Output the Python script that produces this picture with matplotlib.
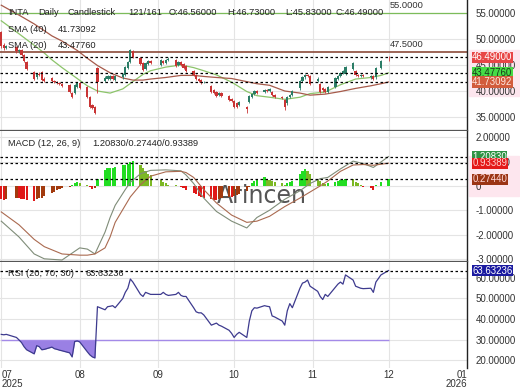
import matplotlib
matplotlib.use('Agg')
import matplotlib.pyplot as plt
import matplotlib.dates as mdates
import matplotlib.transforms as mtransforms
from matplotlib.patches import Rectangle
import numpy as np
import pandas as pd

plt.rcParams['font.family'] = ['Liberation Sans', 'DejaVu Sans']

# ---- data ----
holidays = ['2025-07-04', '2025-09-01', '2025-11-27']
days = pd.bdate_range('2025-07-01', '2025-12-01')
days = days[~days.isin(pd.to_datetime(holidays))]

opens = [51.3, 48.8, 48.3, 48.5, 47.6, 47.9, 47.0, 45.6, 43.6, 42.6, 43.2, 43.7, 42.3, 42.5, 41.9, 41.8,
         41.6, 41.3, 41.1, 39.7, 39.7, 40.8,
         41.5, 40.8, 38.8, 37.3, 37.0, 44.4, 42.0, 42.3, 42.4, 42.8, 42.2, 42.6, 43.0, 44.5, 45.5, 47.6,
         46.3, 45.4, 44.2, 45.2, 45.8,
         45.0, 45.7, 45.4, 45.9, 45.9, 45.0, 45.6, 45.2, 44.8, 43.8, 43.0, 42.3, 42.2, 41.7, 41.0, 40.1,
         39.8, 39.3, 39.6, 39.0, 38.4,
         38.0, 37.7, 37.4, 37.0, 37.8, 38.9, 39.5, 40.0, 39.9, 40.1, 40.0, 39.8, 39.2, 38.9, 38.2, 37.6,
         38.9, 39.3, 40.5, 42.0, 42.6, 43.0, 42.9,
         42.0, 41.3, 40.6, 40.3, 39.8, 40.8, 42.3, 42.8, 43.5, 43.3, 44.2, 43.9, 43.1, 42.9, 43.0, 42.6,
         42.9, 42.6, 44.4,
         46.56]
closes = [48.6, 48.2, 48.6, 47.6, 47.9, 47.0, 45.8, 44.2, 42.4, 43.3, 43.0, 42.2, 42.0, 41.9, 41.7, 41.6,
          41.3, 40.9, 39.8, 38.8, 41.2, 41.6,
          40.5, 38.9, 37.0, 36.7, 35.8, 41.7, 42.5, 42.8, 42.9, 42.3, 42.8, 43.2, 44.6, 45.5, 47.8, 46.5,
          45.2, 44.1, 45.3, 45.8, 45.3,
          45.9, 45.4, 45.9, 46.1, 44.9, 45.6, 45.0, 44.5, 43.8, 43.0, 42.3, 42.0, 41.6, 41.8, 39.9, 39.6,
          39.1, 39.7, 39.1, 38.2, 38.0,
          37.0, 37.0, 37.8, 36.5, 39.1, 39.4, 40.0, 39.7, 40.2, 40.0, 40.3, 39.2, 38.8, 38.6, 36.9, 38.9,
          39.2, 40.0, 42.0, 42.6, 43.1, 42.8, 41.3,
          42.4, 39.9, 40.1, 39.8, 40.7, 42.5, 42.9, 43.5, 43.9, 44.7, 45.3, 43.1, 42.8, 43.1, 42.9, 42.9,
          42.4, 44.4, 45.7,
          46.49]
highs = [51.6, 49.2, 48.8, 48.7, 48.1, 48.0, 47.2, 45.8, 43.9, 43.5, 43.6, 43.9, 42.6, 42.7, 42.1, 42.0,
         41.8, 41.5, 41.3, 39.9, 41.4, 41.8,
         41.7, 41.0, 39.0, 37.5, 37.2, 44.6, 42.8, 43.0, 43.1, 43.0, 43.0, 43.4, 44.8, 45.7, 48.0, 47.8,
         46.5, 45.6, 45.5, 46.0, 46.0,
         46.1, 45.9, 46.1, 46.5, 46.1, 45.8, 45.8, 45.4, 45.0, 44.0, 43.2, 42.5, 42.4, 42.0, 41.2, 40.3,
         40.0, 39.9, 39.8, 39.2, 38.6,
         38.2, 37.9, 38.0, 37.2, 39.3, 39.6, 40.2, 40.2, 40.4, 40.3, 40.5, 40.0, 39.4, 39.1, 38.4, 39.1,
         39.4, 40.2, 42.2, 42.8, 43.3, 43.2, 43.1,
         42.6, 41.5, 40.8, 40.5, 40.9, 42.7, 43.1, 43.7, 44.1, 44.9, 45.6, 44.1, 43.3, 43.3, 43.2, 43.1,
         43.1, 44.6, 45.9,
         46.73]
lows = [48.3, 47.9, 48.0, 47.4, 47.3, 46.8, 45.6, 44.0, 42.2, 42.4, 42.8, 42.0, 41.8, 41.7, 41.5, 41.4,
        41.1, 40.7, 39.6, 38.6, 39.5, 40.6,
        40.3, 38.7, 36.8, 36.5, 35.6, 39.6, 41.8, 42.1, 42.2, 42.1, 42.0, 42.4, 42.8, 44.3, 45.3, 46.3,
        45.0, 43.9, 44.0, 45.0, 45.1,
        44.8, 45.2, 45.2, 45.7, 44.7, 44.8, 44.8, 44.3, 43.6, 42.8, 42.1, 41.8, 41.4, 41.5, 39.7, 39.4,
        38.9, 39.1, 38.9, 38.0, 37.8,
        36.8, 36.8, 37.2, 35.8, 37.6, 38.7, 39.3, 39.5, 39.7, 39.8, 39.8, 39.0, 38.6, 38.4, 36.3, 37.4,
        38.7, 39.1, 40.2, 41.8, 42.4, 42.6, 41.1,
        41.8, 39.7, 39.9, 39.6, 39.6, 40.6, 42.1, 42.6, 43.3, 43.1, 44.0, 42.9, 42.6, 42.7, 42.7, 42.4,
        42.2, 42.4, 44.2,
        45.83]

hist = [-0.55, -0.58, -0.55, -0.50, -0.50, -0.52, -0.55, -0.60, -0.62, -0.55, -0.50, -0.48, -0.42, -0.30,
        -0.25, -0.18, -0.12, -0.08, -0.03, 0.03, 0.10, 0.18,
        0.12, 0.02, -0.06, -0.12, -0.08, 0.30, 0.65, 0.72, 0.74, 0.75, 0.78, 0.85, 0.88, 0.92, 1.00, 1.02,
        0.85, 0.75, 0.60, 0.50, 0.45,
        0.25, 0.15, 0.10, 0.05, 0.02, -0.02, -0.05, -0.10, -0.15, -0.30, -0.35, -0.40, -0.45, -0.48, -0.55,
        -0.58, -0.60, -0.52, -0.48, -0.45, -0.45,
        -0.42, -0.38, -0.35, -0.20, -0.05, 0.10, 0.20, 0.30, 0.35, 0.30, 0.25, 0.20, 0.15, 0.10, 0.05, 0.10,
        0.15, 0.20, 0.50, 0.62, 0.68, 0.60, 0.50,
        0.30, 0.20, 0.12, 0.08, 0.10, 0.18, 0.20, 0.25, 0.25, 0.30, 0.28, 0.15, 0.10, 0.02, -0.05, -0.10,
        -0.15, 0.05, 0.18,
        0.2744]

rsi = [32.5, 32.3, 32.5, 31.0, 29.8, 28.5, 26.5, 25.0, 23.0, 27.0, 26.5, 25.0, 25.2, 26.3, 25.5, 25.2,
       24.8, 24.5, 23.5, 21.5, 29.0, 29.3,
       28.8, 24.0, 22.5, 21.5, 21.0, 46.0, 44.5, 46.0, 46.2, 46.5, 45.5, 50.0, 53.0, 55.0, 59.5, 58.0,
       52.0, 51.0, 53.0, 52.5, 52.0,
       52.0, 53.0, 52.0, 51.5, 52.0, 53.0, 51.5, 51.0, 51.0, 45.5, 43.5, 43.0, 43.0, 42.0, 37.0, 37.5,
       38.0, 37.0, 36.5, 34.5, 33.0,
       31.0, 32.5, 33.5, 31.0, 39.0, 44.0, 45.5, 45.3, 46.5, 46.2, 46.0, 41.5, 41.0, 39.0, 37.0, 44.0,
       47.5, 45.5, 55.0, 57.5, 58.0, 59.0, 56.0,
       53.5, 51.0, 49.5, 52.0, 51.0, 55.5, 57.0, 58.0, 57.0, 61.5, 59.0, 56.0, 55.5, 55.0, 54.8, 55.0,
       53.0, 58.0, 61.5,
       63.63236]

sma_dates = ['2025-07-01', '2025-07-08', '2025-07-14', '2025-07-18', '2025-07-21', '2025-07-25',
             '2025-07-31', '2025-08-04', '2025-08-08', '2025-08-13', '2025-08-18', '2025-08-22',
             '2025-08-26', '2025-08-29', '2025-09-04', '2025-09-10', '2025-09-15', '2025-09-19',
             '2025-09-24', '2025-09-30', '2025-10-06', '2025-10-10', '2025-10-15', '2025-10-21',
             '2025-10-27', '2025-10-31', '2025-11-06', '2025-11-12', '2025-11-18', '2025-11-24',
             '2025-11-28', '2025-12-01']
sma20 = [53.5, 51.0, 48.8, 47.3, 46.0, 44.5, 42.4, 41.0, 40.0, 39.6, 40.4, 41.8, 43.2, 43.9, 44.6, 45.0,
         44.5, 43.9, 43.1, 41.7, 39.9, 39.1, 38.8, 38.4, 38.8, 39.5, 39.8, 41.2, 42.3, 42.6, 43.0, 43.4776]
sma40 = [56.5, 54.6, 52.9, 51.6, 50.6, 49.6, 47.8, 46.3, 44.9, 43.5, 42.5, 42.1, 42.1, 42.3, 42.6, 43.0,
         43.0, 42.8, 42.6, 42.4, 41.8, 41.4, 41.1, 40.0, 39.6, 39.2, 39.4, 39.9, 40.5, 41.0, 41.4, 41.73092]

macd_dates = ['2025-07-01', '2025-07-08', '2025-07-14', '2025-07-18', '2025-07-25', '2025-08-01',
              '2025-08-04', '2025-08-07', '2025-08-11', '2025-08-13', '2025-08-15', '2025-08-19',
              '2025-08-21', '2025-08-25', '2025-08-29', '2025-09-04', '2025-09-10', '2025-09-12',
              '2025-09-15', '2025-09-17', '2025-09-19', '2025-09-24', '2025-09-30', '2025-10-06',
              '2025-10-10', '2025-10-15', '2025-10-21', '2025-10-27', '2025-10-31', '2025-11-04',
              '2025-11-07', '2025-11-12', '2025-11-17', '2025-11-21', '2025-11-25', '2025-12-01']
macd = [-1.45, -2.1, -2.8, -3.0, -3.05, -2.55, -2.6, -2.8, -1.9, -1.3, -0.8, -0.15, 0.15, 0.5, 0.64,
        0.66, 0.62, 0.45, 0.1, -0.2, -0.5, -1.05, -1.45, -1.73, -1.3, -1.0, -0.55, -0.2, 0.1, 0.3, 0.35,
        0.7, 1.02, 0.92, 0.76, 1.2083]
signal = [-1.07, -1.6, -2.2, -2.5, -2.8, -2.85, -2.85, -2.8, -2.55, -2.1, -1.5, -0.8, -0.45, 0.05, 0.4,
          0.58, 0.6, 0.55, 0.35, 0.1, -0.15, -0.7, -1.2, -1.5, -1.45, -1.25, -0.85, -0.5, -0.25, 0.0, 0.2,
          0.6, 0.86, 0.88, 0.85, 0.93389]

month_ticks = ['2025-07-01', '2025-08-01', '2025-09-01', '2025-10-01', '2025-11-01', '2025-12-01', '2026-01-01']
month_labels = ['07\n2025', '08', '09', '10', '11', '12', '01\n2026']

# ---- layout (pixel based, 520x390) ----
W, H = 520, 390
fig = plt.figure(figsize=(W / 100, H / 100), dpi=100, facecolor='white')


def px_axes(top, bottom):
    return fig.add_axes([0, 1 - bottom / H, 467 / W, (bottom - top) / H])


ax_p = px_axes(0, 130)
ax_m = px_axes(131, 261)
ax_r = px_axes(262, 368)

x = mdates.date2num(days)
xs = mdates.date2num(pd.to_datetime(sma_dates))
xm = mdates.date2num(pd.to_datetime(macd_dates))
xt = mdates.date2num(pd.to_datetime(month_ticks))
x0 = mdates.date2num(pd.Timestamp('2025-06-30 12:00'))
x1 = mdates.date2num(pd.Timestamp('2026-01-01'))

grid_c = '#e4e4e4'
txt_c = '#222222'
fs = 6.7

for ax in (ax_p, ax_m, ax_r):
    ax.set_xlim(x0, x1)
    ax.set_facecolor('white')
    for s in ('left', 'top', 'bottom'):
        ax.spines[s].set_visible(False)
    ax.spines['right'].set_color('#222222')
    ax.spines['right'].set_linewidth(1.0)
    ax.yaxis.tick_right()
    ax.tick_params(axis='y', length=0, pad=6, labelsize=fs + 0.3, colors='#333333')
    ax.set_xticks(xt)
    ax.grid(True, color=grid_c, lw=0.8)
    ax.set_axisbelow(True)
for ax in (ax_p, ax_m):
    ax.spines['bottom'].set_visible(True)
    ax.spines['bottom'].set_color('#555555')
    ax.spines['bottom'].set_linewidth(0.9)
    ax.tick_params(axis='x', length=0, labelbottom=False)

# ---- price panel ----
ax_p.set_ylim(32.5, 57.5)
ax_p.set_yticks([35, 40, 45, 50, 55])
ax_p.yaxis.set_major_formatter(lambda v, p: '%.5f' % v)

up_c, dn_c = '#2b7d66', '#c93434'
for xi, o, h, l, c in zip(x, opens, highs, lows, closes):
    col = up_c if c >= o else dn_c
    ax_p.vlines(xi, l, h, color=col, lw=0.6, zorder=3)
    ax_p.bar(xi, max(abs(c - o), 0.12), bottom=min(o, c), width=0.9, color=col, lw=0, zorder=3)

ax_p.plot(xs, sma20, color='#8cc46a', lw=0.9, zorder=2)
ax_p.plot(xs, sma40, color='#a65a4a', lw=0.9, zorder=2)
ax_p.axhline(55, color='#7cbc5a', lw=0.9, zorder=2)
ax_p.axhline(47.5, color='#8b4a3a', lw=1.2, zorder=2)
for v in (closes[-1], sma20[-1], sma40[-1]):
    ax_p.axhline(v, color='black', lw=0.9, ls=(0, (2, 2)), zorder=4)
ax_p.annotate('55.0000', (x[-1], 55), xytext=(1, 2.5), textcoords='offset points',
              fontsize=fs, color='#333333', va='bottom')
ax_p.annotate('47.5000', (x[-1], 47.5), xytext=(1, 2.5), textcoords='offset points',
              fontsize=fs, color='#333333', va='bottom')

# ---- MACD panel ----
ax_m.set_ylim(-3.09, 2.26)
ax_m.set_yticks([-3, -2, -1, 0, 1, 2])
ax_m.yaxis.set_major_formatter(lambda v, p: '%.5f' % v if v != 0 else '0')
hcols = []
for i, v in enumerate(hist):
    prev = hist[i - 1] if i > 0 else v
    if v >= 0:
        hcols.append('#22dd22' if v >= prev else '#7cb824')
    else:
        hcols.append('#e01818' if v <= prev else '#a23a0e')
ax_m.bar(x, hist, width=0.85, color=hcols, lw=0, zorder=3)
ax_m.text(0.561, 0.50, 'Arincen', transform=ax_m.transAxes, fontsize=17, color='#555555',
          ha='center', va='center', family='DejaVu Sans', zorder=1)
ax_m.plot(xm, macd, color='#7f8c78', lw=0.8, zorder=4)
ax_m.plot(xm, signal, color='#aa6a50', lw=0.8, zorder=4)
for v in (macd[-1], signal[-1], hist[-1]):
    ax_m.axhline(v, color='black', lw=0.9, ls=(0, (2, 2)), zorder=5)

# ---- RSI panel ----
rsi_a = np.array(rsi)
ax_r.set_ylim(16.1, 67.8)
ax_r.set_yticks([20, 30, 40, 50, 60])
ax_r.yaxis.set_major_formatter(lambda v, p: '%.5f' % v)
ax_r.fill_between(x, rsi_a, 30, where=rsi_a < 30, interpolate=True, color='#9a80e4', lw=0, zorder=2)
ax_r.hlines(30, x[0], x[-1], color='#a48ae8', lw=1.0, zorder=2)
ax_r.plot(x, rsi_a, color='#3d3a8e', lw=0.9, zorder=3)
ax_r.axhline(rsi[-1], color='black', lw=0.9, ls=(0, (2, 2)), zorder=4)
ax_r.set_xticklabels(month_labels)
ax_r.tick_params(axis='x', length=0, pad=1.5, labelsize=fs + 0.3, colors='#333333')
for i, lbl in enumerate(ax_r.get_xticklabels()):
    lbl.set_linespacing(0.9)
    if i == 0:
        lbl.set_ha('left')
    elif i == len(month_labels) - 1:
        lbl.set_ha('right')
        lbl.set_multialignment('right')

# ---- right hand value boxes ----
for top, hgt in ((50, 46), (156, 40)):
    fig.patches.append(Rectangle((469 / W, 1 - (top + hgt) / H), 50 / W, hgt / H,
                                 transform=fig.transFigure, color='#fde6ee', zorder=-1))


def value_box(ax, v, fc, tc):
    tr = mtransforms.blended_transform_factory(ax.transAxes, ax.transData)
    ax.text(1.011, v, '%.5f' % v, transform=tr, fontsize=fs + 0.2, color=tc, va='center', ha='left',
            zorder=6, bbox=dict(boxstyle='square,pad=0.06', fc=fc, ec='none'))


# top to bottom, so the lower box sits over the one above it
value_box(ax_p, closes[-1], '#e84646', '#ffffff')
value_box(ax_p, sma20[-1], '#46dc46', '#1a3a1a')
value_box(ax_p, sma40[-1], '#d25c3c', '#ffe8e0')
value_box(ax_m, macd[-1], '#2e9444', '#ffffff')
value_box(ax_m, signal[-1], '#e41a1a', '#ffd0d0')
value_box(ax_m, hist[-1], '#9b3515', '#ffd8d8')
value_box(ax_r, rsi[-1], '#1a1aa0', '#ffffff')

# ---- header texts ----


def ftxt(px, py, s):
    fig.text(px / W, 1 - py / H, s, fontsize=fs, color=txt_c, va='center', ha='left', zorder=7)


for px, s in [(8, 'INTA'), (38, 'Daily'), (68, 'Candlestick'), (128, '121/161'),
              (169, 'O:%.5f' % opens[-1]), (227, 'H:%.5f' % highs[-1]),
              (285, 'L:%.5f' % lows[-1]), (335, 'C:%.5f' % closes[-1])]:
    ftxt(px, 12.5, s)
ftxt(8, 29, 'SMA (40)')
ftxt(58, 29, '%.5f' % sma40[-1])
ftxt(8, 46, 'SMA (20)')
ftxt(58, 46, '%.5f' % sma20[-1])
ftxt(8, 143, 'MACD (12, 26, 9)')
ftxt(92, 143, '%.5f/%.5f/%.5f' % (macd[-1], hist[-1], signal[-1]))
ftxt(8, 273, 'RSI (20, 70, 30)')
ftxt(86, 273, '%.5f' % rsi[-1])

fig.savefig('out.png', dpi=100, facecolor='white')
